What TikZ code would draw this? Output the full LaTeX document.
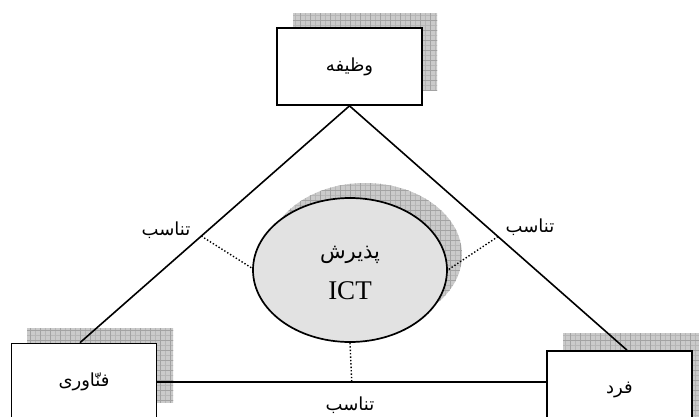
\documentclass[tikz,border=0pt]{standalone}
\usepackage{fontspec}
\setmainfont{Liberation Serif}
\newfontfamily\arabicfont[Script=Arabic]{DejaVu Sans}
\TeXXeTstate=1
\usetikzlibrary{shapes.geometric}

\definecolor{shadefill}{HTML}{CACACA}
\definecolor{shadeline}{HTML}{A2A2A2}
\definecolor{shadefine}{HTML}{B6B6B6}
\definecolor{ellfill}{HTML}{E2E2E2}

\newcommand{\fa}[1]{{\arabicfont\beginR #1\endR}}
% grid hatching over a rectangular area (used inside a clip)
\newcommand{\hatcharea}[4]{%
  \pgfmathtruncatemacro\hxa{#1+5}\pgfmathtruncatemacro\hxb{#1+10}%
  \pgfmathtruncatemacro\hya{#2+5}\pgfmathtruncatemacro\hyb{#2+10}%
  \fill[shadefill] (#1,#2) rectangle (#3,#4);
  \foreach \k in {#1,\hxa,...,#3}{\draw[shadefine, line width=0.4pt] (\k,#2) -- (\k,#4);}
  \foreach \k in {#2,\hya,...,#4}{\draw[shadefine, line width=0.4pt] (#1,\k) -- (#3,\k);}
  \foreach \k in {#1,\hxb,...,#3}{\draw[shadeline, line width=0.6pt] (\k,#2) -- (\k,#4);}
  \foreach \k in {#2,\hyb,...,#4}{\draw[shadeline, line width=0.6pt] (#1,\k) -- (#3,\k);}
}

\begin{document}
\begin{tikzpicture}[x=1pt,y=-1pt,
  box/.style={draw, line width=1.7pt, fill=white, minimum width=145pt,
    minimum height=77pt, inner sep=0pt, font=\fontsize{18}{22}\selectfont},
  hub/.style={draw, line width=1.7pt, fill=ellfill, ellipse,
    minimum width=194pt, minimum height=144pt, inner sep=0pt},
  side/.style={line width=1.6pt},
  link/.style={line width=1.4pt, dotted},
  tag/.style={font=\fontsize{18}{21}\selectfont, inner sep=1pt}]
\useasboundingbox (0,0) rectangle (699,416);

% hatched drop shadows behind the boxes and the ellipse
\begin{scope}
  \clip (293,13) rectangle (437,90);
  \hatcharea{290}{10}{440}{90}
\end{scope}
\begin{scope}
  \clip (27,328) rectangle (173,402);
  \hatcharea{20}{320}{180}{410}
\end{scope}
\begin{scope}
  \clip (563,333) rectangle (710,420);
  \hatcharea{560}{330}{710}{420}
\end{scope}
\begin{scope}
  \clip (365,255) ellipse [x radius=97, y radius=72];
  \hatcharea{260}{180}{470}{330}
\end{scope}

% the three corner boxes and the central ellipse
\node[box] (task) at (349.5,66.5) {\fa{وظیفه}};
\node[box] (tech) at (84,382) {\fa{فنّاوری}};
\node[box] (pers) at (619.5,389.5) {\fa{فرد}};
\node[hub] (ict) at (350,270) {};
\node (ictfa) at (350,255) {\fontsize{21}{24}\selectfont\fa{پذیرش}};
\node (icten) at (350,291) {\fontsize{27}{30}\selectfont ICT};

% triangle sides
\draw[side] (task.south) -- ([xshift=-4pt]tech.north)
  coordinate[pos=0.55] (lp);
\draw[side] (task.south) -- ([xshift=7.5pt]pers.north)
  coordinate[pos=0.535] (rp);
\draw[side] (tech.east) -- (pers.west |- tech.east)
  coordinate[pos=0.5] (bp);

% dotted links from the ellipse to the sides
\draw[link] (lp) -- (ict.179);
\draw[link] (rp) -- (ict.0);
\draw[link] (ict.south) -- (bp);

% side labels
\node[tag] (lt) at (166,230) {\fa{تناسب}};
\node[tag] (rt) at (530,227) {\fa{تناسب}};
\node[tag] (bt) at (350,405) {\fa{تناسب}};
\end{tikzpicture}
\end{document}
